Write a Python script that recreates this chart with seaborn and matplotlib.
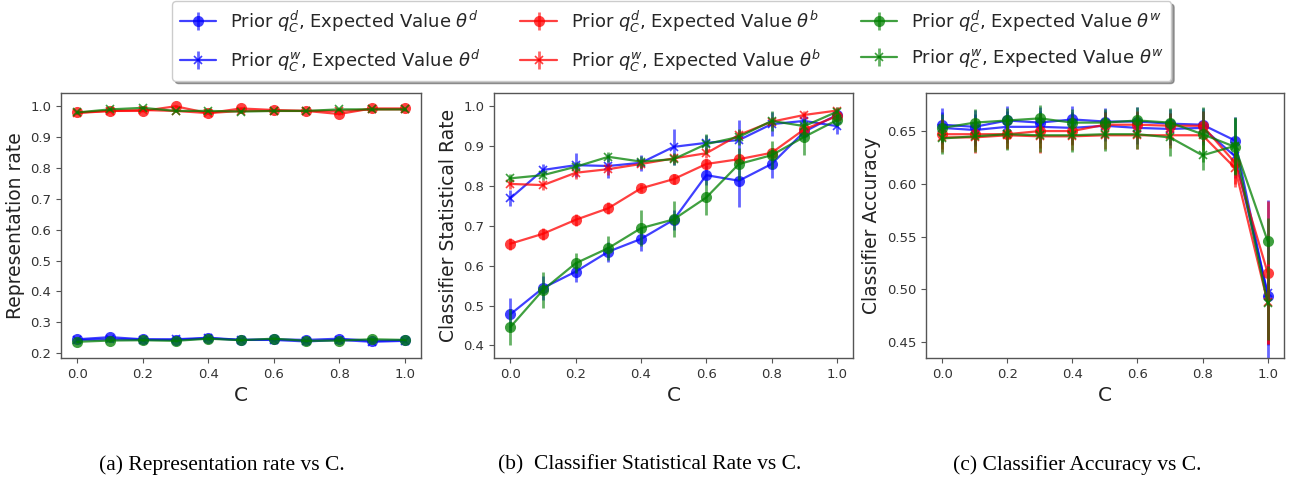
import numpy as np
import pandas as pd
import matplotlib
matplotlib.use("Agg")
import matplotlib.pyplot as plt
from matplotlib.container import ErrorbarContainer
import seaborn as sns

C = [0.0, 0.1, 0.2, 0.3, 0.4, 0.5, 0.6, 0.7, 0.8, 0.9, 1.0]

labels = [
    r'Prior $q_C^d$, Expected Value $\theta^d$',
    r'Prior $q_C^w$, Expected Value $\theta^d$',
    r'Prior $q_C^d$, Expected Value $\theta^b$',
    r'Prior $q_C^w$, Expected Value $\theta^b$',
    r'Prior $q_C^d$, Expected Value $\theta^w$',
    r'Prior $q_C^w$, Expected Value $\theta^w$',
]
colors = ['blue', 'blue', 'red', 'red', 'green', 'green']
markers = ['o', 'x', 'o', 'x', 'o', 'x']

# Panel (a): representation rate
rep_dd = [0.245, 0.252, 0.245, 0.243, 0.248, 0.243, 0.245, 0.243, 0.247, 0.240, 0.242]
rep_wd = [0.243, 0.245, 0.244, 0.245, 0.250, 0.243, 0.243, 0.238, 0.243, 0.237, 0.240]
rep_db = [0.980, 0.985, 0.985, 1.000, 0.978, 0.993, 0.988, 0.985, 0.975, 0.993, 0.993]
rep_wb = [0.978, 0.985, 0.988, 0.985, 0.978, 0.985, 0.985, 0.985, 0.985, 0.990, 0.990]
rep_dw = [0.237, 0.241, 0.242, 0.240, 0.247, 0.242, 0.247, 0.240, 0.241, 0.245, 0.243]
rep_ww = [0.980, 0.990, 0.995, 0.985, 0.985, 0.983, 0.985, 0.985, 0.990, 0.990, 0.990]
rep_err = [0.004] * 11

# Panel (b): classifier statistical rate
sr_dd = [0.478, 0.544, 0.585, 0.635, 0.667, 0.715, 0.827, 0.813, 0.855, 0.936, 0.978]
sr_wd = [0.769, 0.840, 0.852, 0.850, 0.858, 0.898, 0.908, 0.915, 0.955, 0.963, 0.950]
sr_db = [0.655, 0.680, 0.715, 0.744, 0.794, 0.817, 0.855, 0.867, 0.883, 0.942, 0.975]
sr_wb = [0.805, 0.802, 0.833, 0.842, 0.855, 0.869, 0.882, 0.928, 0.961, 0.978, 0.989]
sr_dw = [0.446, 0.539, 0.606, 0.644, 0.694, 0.716, 0.771, 0.855, 0.877, 0.923, 0.965]
sr_ww = [0.819, 0.827, 0.848, 0.873, 0.861, 0.867, 0.905, 0.923, 0.963, 0.950, 0.986]
sr_err_dd = [0.042, 0.030, 0.025, 0.025, 0.030, 0.025, 0.025, 0.065, 0.035, 0.020, 0.015]
sr_err_wd = [0.020, 0.015, 0.030, 0.030, 0.020, 0.045, 0.020, 0.050, 0.030, 0.015, 0.020]
sr_err_db = [0.015, 0.015, 0.015, 0.015, 0.010, 0.012, 0.012, 0.012, 0.012, 0.012, 0.012]
sr_err_wb = [0.012, 0.012, 0.015, 0.015, 0.012, 0.012, 0.012, 0.012, 0.012, 0.010, 0.010]
sr_err_dw = [0.045, 0.045, 0.025, 0.030, 0.045, 0.045, 0.045, 0.040, 0.035, 0.045, 0.015]
sr_err_ww = [0.010, 0.012, 0.012, 0.012, 0.015, 0.015, 0.025, 0.020, 0.025, 0.015, 0.012]

# Panel (c): classifier accuracy
acc_dd = [0.656, 0.654, 0.660, 0.658, 0.661, 0.659, 0.659, 0.657, 0.656, 0.641, 0.494]
acc_wd = [0.653, 0.651, 0.654, 0.654, 0.653, 0.655, 0.653, 0.652, 0.653, 0.626, 0.497]
acc_db = [0.647, 0.647, 0.647, 0.650, 0.650, 0.656, 0.656, 0.655, 0.655, 0.620, 0.516]
acc_wb = [0.644, 0.644, 0.646, 0.645, 0.645, 0.646, 0.646, 0.646, 0.646, 0.615, 0.488]
acc_dw = [0.653, 0.658, 0.660, 0.662, 0.658, 0.658, 0.660, 0.658, 0.647, 0.635, 0.546]
acc_ww = [0.643, 0.645, 0.647, 0.646, 0.646, 0.647, 0.647, 0.644, 0.627, 0.636, 0.487]
acc_err_dd = [0.016, 0.016, 0.014, 0.015, 0.013, 0.013, 0.014, 0.014, 0.016, 0.022, 0.091]
acc_err_wd = [0.015, 0.015, 0.015, 0.015, 0.015, 0.014, 0.015, 0.015, 0.016, 0.020, 0.050]
acc_err_db = [0.014, 0.015, 0.013, 0.016, 0.013, 0.012, 0.013, 0.012, 0.014, 0.020, 0.068]
acc_err_wb = [0.014, 0.015, 0.013, 0.016, 0.013, 0.013, 0.013, 0.012, 0.014, 0.018, 0.040]
acc_err_dw = [0.013, 0.013, 0.012, 0.013, 0.013, 0.013, 0.013, 0.014, 0.026, 0.027, 0.022]
acc_err_ww = [0.015, 0.015, 0.015, 0.016, 0.016, 0.016, 0.014, 0.018, 0.014, 0.027, 0.035]

panels = [
    dict(ylabel='Representation rate',
         series=[rep_dd, rep_wd, rep_db, rep_wb, rep_dw, rep_ww],
         errs=[rep_err] * 6,
         ylim=(0.184, 1.043), yticks=[0.2, 0.3, 0.4, 0.5, 0.6, 0.7, 0.8, 0.9, 1.0],
         fmt='{:.1f}', caption='(a) Representation rate vs C.', cx=0.172),
    dict(ylabel='Classifier Statistical Rate',
         series=[sr_dd, sr_wd, sr_db, sr_wb, sr_dw, sr_ww],
         errs=[sr_err_dd, sr_err_wd, sr_err_db, sr_err_wb, sr_err_dw, sr_err_ww],
         ylim=(0.368, 1.033), yticks=[0.4, 0.5, 0.6, 0.7, 0.8, 0.9, 1.0],
         fmt='{:.1f}', caption='(b)  Classifier Statistical Rate vs C.', cx=0.503),
    dict(ylabel='Classifier Accuracy',
         series=[acc_dd, acc_wd, acc_db, acc_wb, acc_dw, acc_ww],
         errs=[acc_err_dd, acc_err_wd, acc_err_db, acc_err_wb, acc_err_dw, acc_err_ww],
         ylim=(0.435, 0.686), yticks=[0.45, 0.50, 0.55, 0.60, 0.65],
         fmt='{:.2f}', caption='(c) Classifier Accuracy vs C.', cx=0.834),
]

sns.set_theme(style="ticks")
plt.rcParams['font.family'] = ['DejaVu Sans']
plt.rcParams['axes.edgecolor'] = '#555555'
plt.rcParams['xtick.color'] = '#555555'
plt.rcParams['ytick.color'] = '#555555'
plt.rcParams['xtick.labelcolor'] = '#333333'
plt.rcParams['ytick.labelcolor'] = '#333333'

fig = plt.figure(figsize=(12.92, 4.82), dpi=100)
positions = [
    [0.0472, 0.257, 0.2786, 0.550],
    [0.3824, 0.257, 0.2780, 0.550],
    [0.7167, 0.257, 0.2770, 0.550],
]

legend_handles = []
for pi, (p, pos) in enumerate(zip(panels, positions)):
    ax = fig.add_axes(pos)
    for si in range(6):
        y = p['series'][si]
        e = p['errs'][si]
        df = pd.DataFrame({'C': C, 'v': y})
        eb = ax.errorbar(C, y, yerr=e, fmt='none', ecolor=colors[si],
                         elinewidth=2.0, alpha=0.6, capsize=0)
        is_x = markers[si] == 'x'
        sns.lineplot(data=df, x='C', y='v', ax=ax, color=colors[si],
                     marker=markers[si], markersize=6 if is_x else 8,
                     markeredgewidth=1.2 if is_x else 0,
                     markeredgecolor=colors[si],
                     linewidth=1.6, alpha=0.75, legend=False)
        line = ax.lines[-1]
        if pi == 0:
            legend_handles.append(
                ErrorbarContainer((line, (), eb.lines[2]), has_xerr=False, has_yerr=True))
    ax.set_xlim(-0.05, 1.05)
    ax.set_ylim(*p['ylim'])
    ax.set_xticks([0.0, 0.2, 0.4, 0.6, 0.8, 1.0])
    ax.set_xticklabels(['{:.1f}'.format(t) for t in [0.0, 0.2, 0.4, 0.6, 0.8, 1.0]])
    ax.set_yticks(p['yticks'])
    ax.set_yticklabels([p['fmt'].format(t) for t in p['yticks']])
    ax.tick_params(labelsize=9.5, length=3.5, width=0.8)
    ax.set_xlabel('C', fontsize=14.5, color='#222222')
    ax.set_ylabel(p['ylabel'], fontsize=13.5, color='#222222')
    for s in ax.spines.values():
        s.set_visible(True)
        s.set_linewidth(1.0)
    fig.text(p['cx'], 0.035, p['caption'], ha='center', va='center',
             fontsize=15.5, family='Liberation Serif', color='black')

fig.legend(handles=legend_handles, labels=labels, ncol=3, loc='upper center',
           bbox_to_anchor=(0.52, 1.016), fontsize=13, frameon=True, shadow=True,
           fancybox=True, columnspacing=2.2, handlelength=2.0, labelspacing=0.7,
           edgecolor='#cccccc')

fig.savefig('out.png', dpi=100, facecolor='white')
